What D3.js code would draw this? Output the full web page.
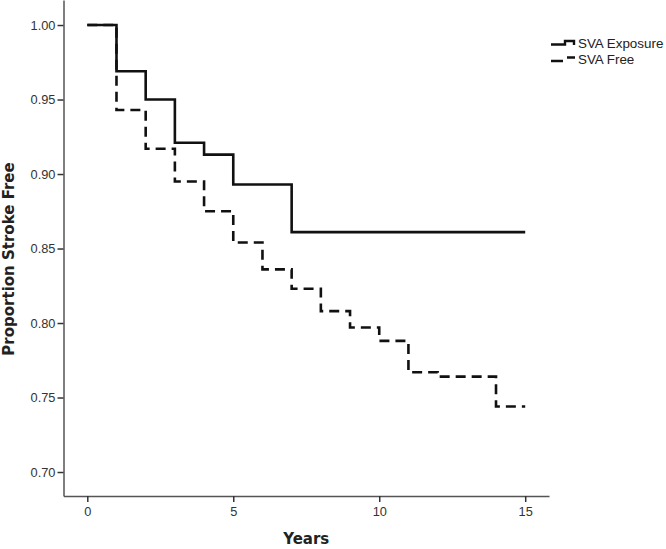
<!DOCTYPE html>
<html><head><meta charset="utf-8">
<script src="https://cdn.jsdelivr.net/npm/d3@7"></script>
<style>body{margin:0;background:#fff}svg{display:block}</style>
</head><body>
<script>
const seriesNames = ["SVA Exposure", "SVA Free"];
const exposureTimes = [0, 1, 2, 3, 4, 5, 7, 15];
const exposureValues = [1.000, 0.969, 0.950, 0.921, 0.913, 0.893, 0.861, 0.861];
const freeTimes = [0, 1, 2, 3, 4, 5, 6, 7, 8, 9, 10, 11, 12, 14, 15];
const freeValues = [1.000, 0.943, 0.917, 0.895, 0.875, 0.854, 0.836, 0.823, 0.808, 0.797, 0.788, 0.767, 0.764, 0.744, 0.744];
const xTicks = [0, 5, 10, 15];
const yTicks = [0.70, 0.75, 0.80, 0.85, 0.90, 0.95, 1.00];

const W = 666, H = 549;
const svg = d3.select("body").append("svg").attr("width", W).attr("height", H);
const pLeft = 63.5, pRight = 549, pTop = 0, pBottom = 496;
const x = d3.scaleLinear().domain([-0.815, 15.815]).range([pLeft, pRight]);
const y = d3.scaleLinear().domain([0.6839, 1.0168]).range([pBottom, pTop]);

const axisColor = "#555";
const tickFont = "Liberation Sans, Arial, sans-serif";
const titleFont = "DejaVu Sans, Verdana, sans-serif";
const xa = svg.append("g").attr("transform", `translate(0,${pBottom})`)
  .call(d3.axisBottom(x).tickValues(xTicks).tickSize(6).tickPadding(5).tickSizeOuter(0).tickFormat(d3.format("d")));
const ya = svg.append("g").attr("transform", `translate(${pLeft},0)`)
  .call(d3.axisLeft(y).tickValues(yTicks).tickSize(6).tickPadding(2).tickSizeOuter(0).tickFormat(d3.format(".2f")));
[xa, ya].forEach(a => {
  a.select(".domain").attr("stroke", axisColor).attr("stroke-width", 1.5);
  a.selectAll(".tick line").attr("stroke", "#333").attr("stroke-width", 1.5);
  a.selectAll(".tick text").attr("fill", "#333").style("font-family", tickFont).style("font-size", "12.8px");
});

const line = d3.line().x(d => x(d[0])).y(d => y(d[1])).curve(d3.curveStepAfter);
const expData = exposureTimes.map((t, i) => [t, exposureValues[i]]);
const freeData = freeTimes.map((t, i) => [t, freeValues[i]]);

svg.append("path").datum(freeData).attr("d", line).attr("fill", "none")
  .attr("stroke", "#111").attr("stroke-width", 2.6).attr("stroke-dasharray", "10,6");
svg.append("path").datum(expData).attr("d", line).attr("fill", "none")
  .attr("stroke", "#111").attr("stroke-width", 2.6);

svg.append("text").attr("x", (pLeft + pRight) / 2).attr("y", 544).attr("text-anchor", "middle")
  .style("font-family", titleFont).style("font-size", "15px").style("font-weight", "bold")
  .attr("fill", "#222").text("Years");
svg.append("text").attr("transform", `translate(14,259) rotate(-90)`).attr("text-anchor", "middle")
  .style("font-family", titleFont).style("font-size", "15px").style("font-weight", "bold")
  .attr("fill", "#222").text("Proportion Stroke Free");

const lg = svg.append("g");
lg.append("path").attr("d", "M551,44.5 H565 V41 H574 V45").attr("fill", "none").attr("stroke", "#111").attr("stroke-width", 2.4);
lg.append("path").attr("d", "M551,61 H563 M567,57.5 H575").attr("fill", "none").attr("stroke", "#111").attr("stroke-width", 2.4);
lg.selectAll("text.leg").data(seriesNames).join("text").attr("class", "leg")
  .attr("x", 578).attr("y", (d, i) => 48 + i * 16)
  .style("font-family", tickFont).style("font-size", "13.4px").attr("fill", "#222")
  .text(d => d);
</script>
</body></html>
